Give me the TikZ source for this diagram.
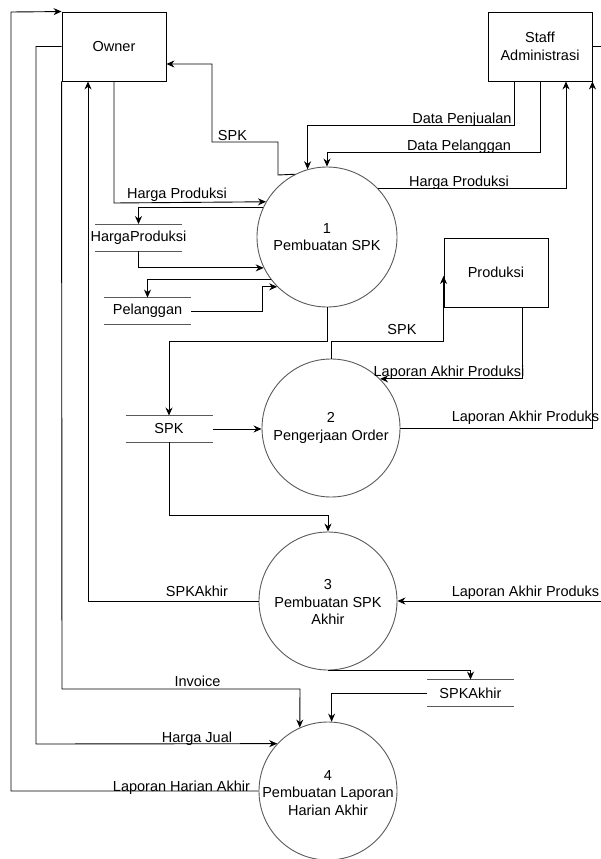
\documentclass[tikz,border=0pt]{standalone}
\usepackage{fontspec}
\setmainfont{Liberation Sans}
\usetikzlibrary{arrows.meta}
\definecolor{procgray}{RGB}{90,90,90}
\begin{document}
\begin{tikzpicture}[x=1pt,y=-1pt,
  font=\fontsize{14.5}{17.5}\selectfont,
  ext/.style={draw=black, line width=0.9pt, minimum width=104pt, minimum height=69pt, inner sep=0pt, align=center},
  proc/.style={draw=procgray, line width=0.9pt, circle, minimum size=#1, inner sep=0pt},
  proc/.default=138pt,
  ptext/.style={align=center, inner sep=0pt},
  store/.style={minimum width=87pt, minimum height=26.5pt, inner sep=0pt},
  storeline/.style={draw=procgray, line width=0.9pt},
  lbl/.style={anchor=base, inner sep=0pt},
  flow/.style={draw=black, line width=0.9pt, -{Stealth[length=8pt,width=7pt]}},
  plain/.style={draw=black, line width=0.9pt}
]
\useasboundingbox (0,0) rectangle (601,859);

% external entities
\node[ext] (owner) at (114,46.5) {Owner};
\node[ext] (staff) at (540,46.5) {Staff\\Administrasi};
\node[ext] (prod) at (496,272.5) {Produksi};

% processes
\node[proc=140pt] (c1) at (327,237) {};
\node[ptext] (c1t) at (c1) {1\\Pembuatan SPK};
\node[proc] (c2) at (331,428) {};
\node[ptext] (c2t) at (c2) {2\\Pengerjaan Order};
\node[proc] (c3) at (328,601) {};
\node[ptext] (c3t) at (328,602) {3\\Pembuatan SPK\\Akhir};
\node[proc] (c4) at (328,791) {};
\node[ptext] (c4t) at (328,793) {4\\Pembuatan Laporan\\Harian Akhir};

% data stores
\node[store] (hp) at (138.5,237.5) {HargaProduksi};
\node[store] (pel) at (147.5,311) {Pelanggan};
\node[store] (spk) at (169,429) {SPK};
\node[store] (spka) at (470.5,693) {SPKAkhir};
\foreach \s in {hp,pel,spk,spka}
  \draw[storeline] ([xshift=-43.5pt]\s.north) -- ([xshift=43.5pt]\s.north)
                   ([xshift=-43.5pt]\s.south) -- ([xshift=43.5pt]\s.south);

% free ends at the picture edge
\coordinate (edgeA) at (601,46.5);
\coordinate (edgeB) at (601,601);

% connectors
\draw[flow] (c4.west) -- (11,791) -- (11,12) -- (owner.north west);
\draw[flow] (owner.west) -- (36,46.5) -- (36,744) -- (c4.137.1);
\draw[flow] (owner.south west) -- (62,689) -- (300,689) -- (c4.114);
\draw[flow] (c3.west) -- (88,601) -- (owner.south -| 88,0);
\draw[flow] (c1.117.7) -- (278,175) -- (278,142) -- (212,142) -- (212,64) -- (owner.east |- 0,64);
\draw[flow] (owner.south) -- (114,203) -- (c1.150.9);
\draw[flow] (c1.155.5) -| (hp.north);
\draw[flow] (hp.south) |- (c1.206.3);
\draw[flow] (c1.217.9) -| (pel.north);
\draw[flow] (pel.east) -- (262,311) |- (c1.225.6);
\draw[flow] (staff.south -| 514,0) -- (514,125) -| (c1.106.6);
\draw[flow] (staff.south) -- (540,152) -| (c1.north);
\draw[flow] (c1.44.4) -| (staff.south -| 566,0);
\draw[flow] (c1.south) -- (327,341) -| (spk.north);
\draw[flow] (c2.north) -- (331,341) -| (prod.west |- 0,276);
\draw[flow] (prod.south -| 522,0) |- (c2.45.2);
\draw[flow] (c2.east) -| (staff.south east);
\draw[plain] (staff.east) -- (edgeA);
\draw[flow] (edgeB) -- (c3.east);
\draw[flow] (spk.east) -- (spk.east -| c2.west);
\draw[flow] (spk.south) -- (169,515) -| (c3.north);
\draw[flow] (c3.south) -| (spka.north);
\draw[flow] (spka.west) -| (c4.87.5);

% labels
\node[lbl] (l1) at (181.5,791) {Laporan Harian Akhir};
\node[lbl] (l2) at (197,742) {Harga Jual};
\node[lbl] (l3) at (197.5,686) {Invoice};
\node[lbl] (l4) at (197,596) {SPKAkhir};
\node[lbl] (l5) at (232.5,140) {SPK};
\node[lbl] (l6) at (177,198.5) {Harga Produksi};
\node[lbl] (l7) at (462,123) {Data Penjualan};
\node[lbl] (l8) at (459,150) {Data Pelanggan};
\node[lbl] (l9) at (459,186.5) {Harga Produksi};
\node[lbl] (l10) at (402,334) {SPK};
\node[lbl] (l11) at (449,376) {Laporan Akhir Produksi};
\node[lbl] (l12) at (525.5,421) {Laporan Akhir Produks};
\node[lbl] (l13) at (525.5,596) {Laporan Akhir Produks};
\end{tikzpicture}
\end{document}
